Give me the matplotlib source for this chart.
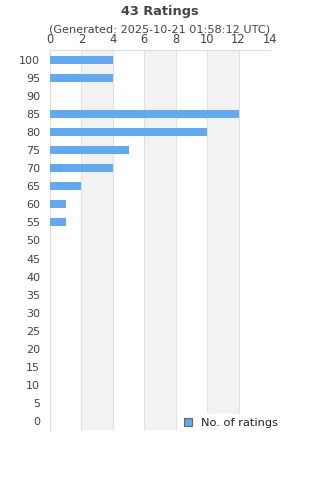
import matplotlib
matplotlib.use("Agg")
import matplotlib.pyplot as plt

# ratings buckets (top to bottom) and how many ratings fell in each
buckets = [100, 95, 90, 85, 80, 75, 70, 65, 60, 55, 50, 45, 40, 35, 30, 25, 20, 15, 10, 5, 0]
counts = [4, 4, 0, 12, 10, 5, 4, 2, 1, 1, 0, 0, 0, 0, 0, 0, 0, 0, 0, 0, 0]
xticks = [0, 2, 4, 6, 8, 10, 12, 14]

title = "43 Ratings"
subtitle = "(Generated: 2025-10-21 01:58:12 UTC)"
series_name = "No. of ratings"

txt = "#444444"
bar_color = "#62a9f0"

fig = plt.figure(figsize=(3.2, 4.8), dpi=100)
ax = fig.add_axes([50 / 320, 1 - 430 / 480, 220 / 320, 380 / 480])

pos = list(range(len(buckets)))[::-1]
bars = ax.barh(pos, counts, height=0.44, color=bar_color, label=series_name, zorder=3)

ax.set_xlim(0, 14)
ax.set_ylim(-0.5, len(buckets) - 0.45)

# alternating shaded bands
for i in range(len(xticks) - 1):
    if i % 2 == 1:
        ax.axvspan(xticks[i], xticks[i + 1], color="#f2f2f2", zorder=0, lw=0)
for x in xticks:
    ax.axvline(x, color="#e0e0e0", lw=0.8, zorder=1)

ax.set_xticks(xticks)
ax.set_yticks(pos)
ax.set_yticklabels([str(b) for b in buckets])
ax.xaxis.tick_top()
ax.tick_params(axis="x", length=0, pad=3, labelsize=8.3, labelcolor=txt)
ax.tick_params(axis="y", length=0, pad=7, labelsize=8, labelcolor=txt)

for side in ["right", "bottom"]:
    ax.spines[side].set_visible(False)
for side in ["top", "left"]:
    ax.spines[side].set_color("#dddddd")
    ax.spines[side].set_linewidth(0.8)

fig.text(0.5, 1 - 11 / 480, title, ha="center", va="center", fontsize=9.3,
         fontweight="bold", color=txt)
fig.text(0.5, 1 - 30 / 480, subtitle, ha="center", va="center", fontsize=8.1, color=txt)

leg = ax.legend(loc="lower right", bbox_to_anchor=(1.085, -0.022), frameon=True,
                fontsize=8.2, handlelength=0.7, handleheight=0.7, borderpad=0.4,
                handletextpad=0.8, fancybox=False)
leg.get_frame().set_facecolor("white")
leg.get_frame().set_edgecolor("white")
leg.get_frame().set_alpha(1)
for t in leg.get_texts():
    t.set_color("#222222")
for h in leg.legend_handles:
    h.set_edgecolor("#666666")
    h.set_linewidth(0.8)

fig.savefig("out.png", dpi=100)
